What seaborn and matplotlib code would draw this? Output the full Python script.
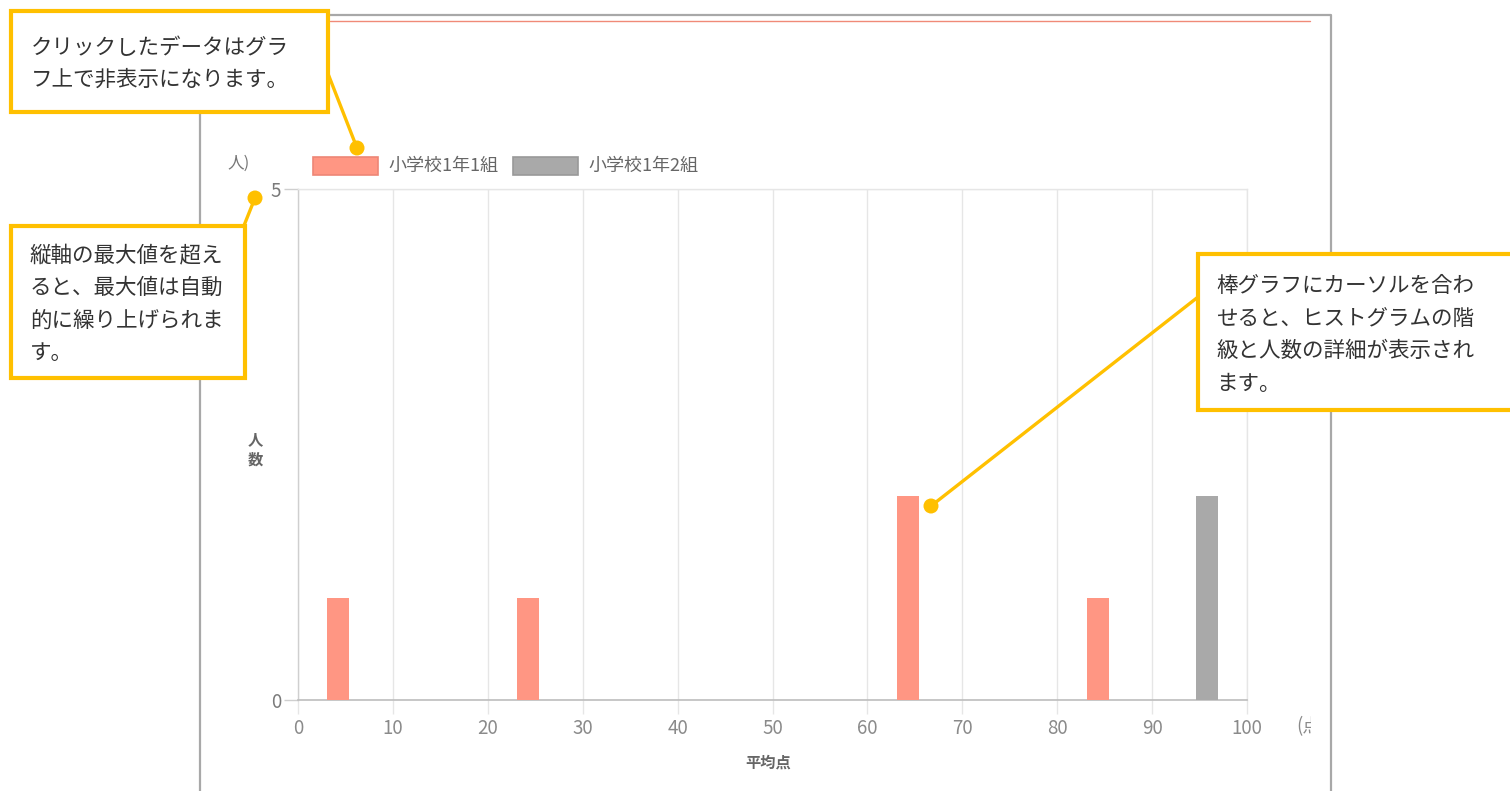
import numpy as np
import pandas as pd
import matplotlib
matplotlib.use("Agg")
import matplotlib.pyplot as plt
from matplotlib.patches import Rectangle, Circle
from matplotlib.lines import Line2D
from matplotlib.transforms import Bbox, TransformedBbox, Affine2D
import seaborn as sns

# ---- data -------------------------------------------------------------
series_names = ["小学校1年1組", "小学校1年2組"]
class1_scores = [4.2, 24.2, 64.3, 84.3]
class1_counts = [1, 1, 2, 1]
class2_scores = [95.8]
class2_counts = [2]
x_ticks = [0, 10, 20, 30, 40, 50, 60, 70, 80, 90, 100]
y_ticks = [0, 5]

x_label = "平均点"
x_unit = "(点)"
y_label = "人\n数"
y_unit = "人)"

notes = [
    "クリックしたデータはグラ\nフ上で非表示になります。",
    "縦軸の最大値を超え\nると、最大値は自動\n的に繰り上げられま\nす。",
    "棒グラフにカーソルを合わ\nせると、ヒストグラムの階\n級と人数の詳細が表示され\nます。",
]

colors = {series_names[0]: "#FF9683", series_names[1]: "#A9A9A9"}
edge_colors = {series_names[0]: "#EE8676", series_names[1]: "#999999"}
YELLOW = "#FFC000"

# ---- figure -----------------------------------------------------------
W, H = 1510, 791
sns.set_theme(style="white")
plt.rcParams["font.family"] = ["Noto Sans CJK JP", "DejaVu Sans"]

fig = plt.figure(figsize=(W / 100, H / 100), dpi=100)
fig.patch.set_facecolor("white")


def fx(x):
    return x / W


def fy(y):
    return 1 - y / H


def frect(x0, y0, x1, y1, **kw):
    r = Rectangle((fx(x0), fy(y1)), (x1 - x0) / W, (y1 - y0) / H,
                  transform=fig.transFigure, **kw)
    fig.add_artist(r)
    return r


def fline(xs, ys, **kw):
    ln = Line2D([fx(v) for v in xs], [fy(v) for v in ys],
                transform=fig.transFigure, **kw)
    fig.add_artist(ln)
    return ln


def fdot(x, y, r, **kw):
    # circle sized in pixels, placed with top-left pixel origin
    c = Circle((0, 0), r, transform=Affine2D().translate(x, H - y), **kw)
    fig.add_artist(c)
    return c


# page panel frame and header rule
fline([200, 200, 1331, 1331], [800, 15, 15, 800], color="#a8a8a8", lw=1.6, zorder=1)
fline([330, 1310], [21, 21], color="#F08a78", lw=1.0, zorder=1)

# ---- plot area ----------------------------------------------------------
ax = fig.add_axes([fx(298), fy(700), (1247 - 298) / W, (700 - 189) / H])
ax.set_facecolor("none")

df = pd.DataFrame({
    "score": class1_scores + class2_scores,
    "count": class1_counts + class2_counts,
    "class": [series_names[0]] * len(class1_scores) + [series_names[1]] * len(class2_scores),
})

bar_width = 2.3
native_unit = np.min(np.diff(np.unique(df["score"])))
sns.barplot(data=df, x="score", y="count", hue="class", palette=colors,
            native_scale=True, dodge=False, width=bar_width / native_unit,
            errorbar=None, saturation=1, linewidth=0, legend=False, ax=ax,
            zorder=3)

ax.set_xlim(0, 100)
ax.set_ylim(0, 5)
ax.set_xticks(x_ticks)
ax.set_xticklabels([str(t) for t in x_ticks])
ax.set_yticks(y_ticks)
ax.set_yticklabels([str(t) for t in y_ticks])
ax.set_xlabel("")
ax.set_ylabel("")

ax.grid(axis="x", color="#e6e6e6", lw=1.0, zorder=0)
ax.grid(axis="y", color="#e6e6e6", lw=1.0, zorder=0)
for side in ["top", "right"]:
    ax.spines[side].set_color("#e6e6e6")
    ax.spines[side].set_linewidth(1.0)
ax.spines["bottom"].set_color("#bdbdbd")
ax.spines["bottom"].set_linewidth(1.2)
ax.spines["left"].set_color("#cfcfcf")
ax.spines["left"].set_linewidth(1.0)
ax.tick_params(axis="x", length=10, width=1.0, color="#e6e6e6",
               labelsize=13.5, labelcolor="#8a8a8a", pad=3, bottom=True)
ax.tick_params(axis="y", length=10, width=1.0, color="#cfcfcf",
               labelsize=13.5, labelcolor="#7a7a7a", pad=2, left=True)

# axis titles
fig.text(fx(768), fy(763), x_label, ha="center", va="center",
         fontsize=11, color="#666666", fontweight="bold")
fig.text(fx(255), fy(449), y_label, ha="center", va="center",
         fontsize=11, color="#666666", fontweight="bold", linespacing=1.35)
fig.text(fx(239), fy(163), y_unit, ha="center", va="center",
         fontsize=12, color="#777777")
unit_txt = fig.text(fx(1296), fy(727), x_unit, ha="left", va="center",
                    fontsize=13.5, color="#8a8a8a")
unit_txt.set_clip_box(TransformedBbox(Bbox([[fx(1200), fy(760)], [fx(1311), fy(700)]]),
                                      fig.transFigure))
unit_txt.set_clip_on(True)

# legend
legend_items = [(313, series_names[0]), (513, series_names[1])]
for x0, name in legend_items:
    frect(x0, 157, x0 + 65, 175, facecolor=colors[name],
          edgecolor=edge_colors[name], lw=1.2, zorder=4)
    fig.text(fx(x0 + 75), fy(166), name, ha="left", va="center",
             fontsize=13, color="#666666", zorder=4)


# ---- callouts ------------------------------------------------------------
def callout(box, text_xy, text, line, dot, spacing):
    x0, y0, x1, y1 = box
    fline(line[0], line[1], color=YELLOW, lw=2.4, zorder=6, solid_capstyle="round")
    fdot(dot[0], dot[1], 7.5, facecolor=YELLOW, edgecolor="none", zorder=7)
    frect(x0, y0, x1, y1, facecolor="white", edgecolor=YELLOW, lw=3.0, zorder=8)
    fig.text(fx(text_xy[0]), fy(text_xy[1]), text, ha="left", va="top",
             fontsize=15.5, color="#333333", linespacing=spacing, zorder=9)


callout((11, 11, 328, 112), (31, 37), notes[0],
        ([325, 357], [66, 148]), (357, 148), 1.55)
callout((11, 226, 245, 378), (30, 244), notes[1],
        ([243, 255], [228, 198]), (255, 198), 1.63)
callout((1198, 254, 1520, 410), (1216, 275), notes[2],
        ([1198, 931], [297, 506]), (931, 506), 1.63)

fig.savefig("out.png", dpi=100, facecolor="white")
